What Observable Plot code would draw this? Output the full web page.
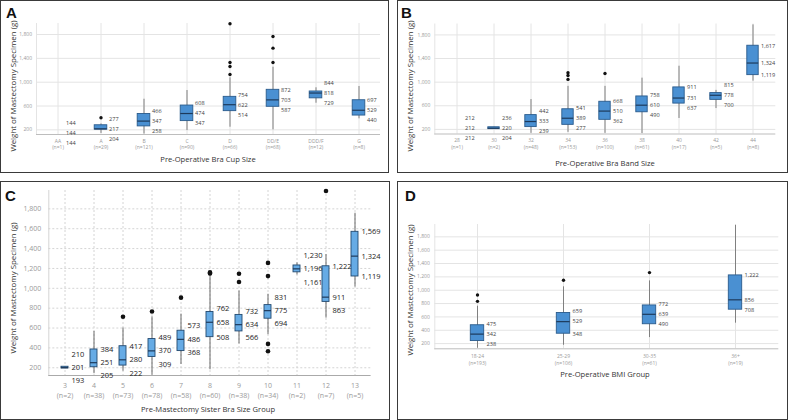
<!DOCTYPE html>
<html><head><meta charset="utf-8">
<script src="https://cdn.jsdelivr.net/npm/d3@7"></script>
<script src="https://cdn.jsdelivr.net/npm/@observablehq/plot@0.6"></script>
<style>
body{margin:0;background:#fff;}
#fig{position:relative;width:788px;height:420px;overflow:hidden;font-family:"Open Sans","Noto Sans",sans-serif;background:#fff;}
.panel{position:absolute;border:1.5px solid #3a3a3a;box-sizing:border-box;}
.letter{position:absolute;font:bold 15px/15px "Liberation Sans",Arial,sans-serif;color:#111;}
.ytitle{position:absolute;transform:translate(-50%,-50%) rotate(-90deg);white-space:nowrap;font-size:7.9px;color:#333;}
.xtitle{position:absolute;transform:translate(-50%,-50%);white-space:nowrap;font-size:7.6px;color:#333;}
.plot{position:absolute;}
</style>
</head><body>
<div id="fig"></div>
<script>
const yDomain = [122, 1985];

// Panel A — pre-operative bra cup size
const cupCats = ["AA","A","B","C","D","DD/E","DDD/F","G"];
const cupN    = [1,29,121,90,66,68,12,8];
const cupLow  = [144,140,130,188,244,200,647,385];
const cupQ1   = [144,204,258,347,514,587,729,440];
const cupMed  = [144,217,347,474,622,703,818,529];
const cupQ3   = [144,277,466,608,754,872,844,697];
const cupHigh = [144,300,714,860,1074,1252,906,928];
const cupOutCat = ["A","D","D","D","D","DD/E","DD/E","DD/E"];
const cupOutVal = [402,1981,1331,1264,1129,1768,1571,1331];

// Panel B — pre-operative bra band size
const bandCats = ["28","30","32","34","36","38","40","42","44"];
const bandN    = [1,2,48,153,100,61,17,5,8];
const bandLow  = [212,204,133,150,133,130,385,553,1017];
const bandQ1   = [212,204,239,277,362,490,637,700,1119];
const bandMed  = [212,220,333,389,510,610,731,778,1324];
const bandQ3   = [212,236,442,541,668,758,911,815,1617];
const bandHigh = [212,236,705,929,929,1068,1270,861,1970];
const bandOutCat = ["34","34","34","36"];
const bandOutVal = [1159,1114,1047,1147];

// Panel C — pre-mastectomy sister bra size group
const sisCats = ["3","4","5","6","7","8","9","10","11","12","13"];
const sisN    = [2,38,73,78,58,60,38,34,2,7,5];
const sisLow  = [193,140,166,125,233,180,440,533,1135,700,1013];
const sisQ1   = [193,205,222,309,368,508,566,694,1161,863,1119];
const sisMed  = [201,251,280,370,486,658,634,775,1196,911,1324];
const sisQ3   = [210,384,417,489,573,762,732,831,1230,1222,1569];
const sisHigh = [210,566,600,713,740,1140,973,940,1256,1340,1756];
const sisOutCat = ["5","6","7","8","8","9","9","10","10","10","10","12"];
const sisOutVal = [713,766,906,1150,1160,1146,1063,1256,1123,440,366,1980];

// Panel D — pre-operative BMI group
const bmiCats = ["18-24","25-29","30-35","36+"];
const bmiN    = [193,106,61,19];
const bmiLow  = [130,175,290,506];
const bmiQ1   = [238,348,490,708];
const bmiMed  = [342,529,639,856];
const bmiQ3   = [475,659,772,1222];
const bmiHigh = [760,1051,1140,1972];
const bmiOutCat = ["18-24","18-24","25-29","30-35"];
const bmiOutVal = [928,833,1150,1264];

const ticksSparse = [200,600,1000,1400,1800];
const ticksDense = [200,400,600,800,1000,1200,1400,1600,1800];

const fmt = d3.format(",");
const fig = document.getElementById("fig");

function add(tag, cls, css, text) {
  const el = document.createElement(tag);
  el.className = cls;
  Object.assign(el.style, css);
  if (text) el.textContent = text;
  fig.appendChild(el);
  return el;
}

function panel(c) {
  const rows = c.cats.map((cat,i)=>({cat, n:c.n[i], low:c.low[i], q1:c.q1[i], med:c.med[i], q3:c.q3[i], high:c.high[i]}));
  const plotH = c.height - c.mt - c.mb;
  const k = plotH / (yDomain[1]-yDomain[0]);
  const gap = c.gapPx / k;
  const labels = rows.flatMap(r => [
    {cat:r.cat, y:Math.max(r.q3, r.med+gap), t:r.q3},
    {cat:r.cat, y:r.med, t:r.med},
    {cat:r.cat, y:Math.min(r.q1, r.med-gap), t:r.q1}
  ]);
  const boxes = rows.filter(r=>r.n>1);
  const outs = c.outCat.map((cat,i)=>({cat, v:c.outVal[i]}));
  const nOf = new Map(rows.map(r=>[r.cat,r.n]));
  const svg = Plot.plot({
    width:c.width, height:c.height,
    marginLeft:c.ml, marginRight:c.mr, marginTop:c.mt, marginBottom:c.mb,
    x:{type:"band", domain:c.cats, padding:0},
    y:{domain:yDomain},
    style:{fontFamily:'"Open Sans","Noto Sans",sans-serif', background:"transparent", overflow:"visible"},
    marks:[
      Plot.gridY(c.ticks, {stroke:c.grid, strokeOpacity:1, strokeDasharray:c.dash}),
      Plot.gridX({stroke:c.grid, strokeOpacity:1, strokeDasharray:c.dash}),
      Plot.frame({anchor:"left", stroke:c.grid}),
      Plot.ruleY([yDomain[0]], {stroke:c.axisLine}),
      Plot.axisY(c.ticks, {tickSize:0, tickPadding:c.yPad, fontSize:c.tickFont, fill:"#9a9a9a", tickFormat:d=>fmt(d), label:null}),
      Plot.axisX({tickSize:0, tickPadding:c.xPad, fontSize:c.tickFont, lineHeight:c.lh, fill:"#9a9a9a", tickFormat:d=>`${d}\n(n=${nOf.get(d)})`, label:null}),
      Plot.ruleX(boxes, {x:"cat", y1:"low", y2:"high", stroke:c.whisk, strokeWidth:1}),
      Plot.barY(boxes, {x:"cat", y1:"q1", y2:"q3", fill:c.fill, stroke:c.boxStroke, strokeWidth:0.9, insetLeft:c.inset, insetRight:c.inset}),
      Plot.tickY(boxes, {x:"cat", y:"med", stroke:c.medStroke, strokeWidth:1.2, insetLeft:c.inset, insetRight:c.inset}),
      Plot.dot(outs, {x:"cat", y:"v", r:c.r, fill:"#111", stroke:null}),
      Plot.text(labels, {x:"cat", y:"y", text:d=>fmt(d.t), dx:c.dx, textAnchor:"start", fontSize:c.labFont, fill:c.labColor})
    ]
  });
  const wrap = add("div","plot",{left:c.left+"px", top:c.top+"px"});
  wrap.appendChild(svg);
}

// borders
add("div","panel",{left:"0px",top:"0px",width:"389px",height:"173px"});
add("div","panel",{left:"397px",top:"0px",width:"391px",height:"173px"});
add("div","panel",{left:"0px",top:"181px",width:"390px",height:"239px"});
add("div","panel",{left:"397px",top:"181px",width:"391px",height:"239px"});

const abd = {fill:"#4a90d2", boxStroke:"#2a5b8c", medStroke:"#1d3a5c", whisk:"#808080", grid:"#e4e4e4", axisLine:"#bdbdbd", dash:null,
  tickFont:5, labFont:5.6, labColor:"#444", r:1.7, yPad:4.5};

panel({...abd, left:0, top:0, width:389, height:172, ml:36, mr:9, mt:23, mb:38,
  cats:cupCats, n:cupN, low:cupLow, q1:cupQ1, med:cupMed, q3:cupQ3, high:cupHigh, outCat:cupOutCat, outVal:cupOutVal,
  ticks:ticksSparse, gapPx:10, inset:15.2, dx:8, xPad:3.5, lh:1.34});

panel({...abd, left:397, top:0, width:390, height:172, ml:37.3, mr:11.7, mt:23.5, mb:38.5,
  cats:bandCats, n:bandN, low:bandLow, q1:bandQ1, med:bandMed, q3:bandQ3, high:bandHigh, outCat:bandOutCat, outVal:bandOutVal,
  ticks:ticksSparse, gapPx:10, inset:12.8, dx:8, xPad:3.5, lh:1.3});

panel({fill:"#66abe5", boxStroke:"#23496f", medStroke:"#1d3a5c", whisk:"#6a6a6a", grid:"#d4d4d4", axisLine:"#aaaaaa", dash:"2,2",
  tickFont:7, labFont:7.5, labColor:"#222", r:2.3, yPad:7.5,
  left:0, top:181, width:389, height:238, ml:48.3, mr:18.4, mt:9, mb:44,
  cats:sisCats, n:sisN, low:sisLow, q1:sisQ1, med:sisMed, q3:sisQ3, high:sisHigh, outCat:sisOutCat, outVal:sisOutVal,
  ticks:ticksDense, gapPx:13.3, inset:11, dx:6.5, xPad:5.5, lh:1.43});

panel({...abd, left:397, top:181, width:390, height:238, ml:37.3, mr:8.7, mt:43, mb:70.7,
  cats:bmiCats, n:bmiN, low:bmiLow, q1:bmiQ1, med:bmiMed, q3:bmiQ3, high:bmiHigh, outCat:bmiOutCat, outVal:bmiOutVal,
  ticks:ticksDense, gapPx:10, inset:36.3, dx:9, xPad:5, lh:1.3, yPad:5});

// letters and titles
add("div","letter",{left:"6px",top:"5px"},"A");
add("div","letter",{left:"401px",top:"5px"},"B");
add("div","letter",{left:"5px",top:"188px"},"C");
add("div","letter",{left:"405px",top:"188px"},"D");

const yt = "Weight of Mastectomy Specimen (g)";
add("div","ytitle",{left:"13px",top:"86px"},yt);
add("div","ytitle",{left:"410px",top:"86px"},yt);
add("div","ytitle",{left:"13px",top:"288px"},yt);
add("div","ytitle",{left:"410px",top:"290px"},yt);

add("div","xtitle",{left:"208px",top:"159px"},"Pre-Operative Bra Cup Size");
add("div","xtitle",{left:"605px",top:"163px"},"Pre-Operative Bra Band Size");
add("div","xtitle",{left:"208px",top:"409px"},"Pre-Mastectomy Sister Bra Size Group");
add("div","xtitle",{left:"605px",top:"374px"},"Pre-Operative BMI Group");
</script>
</body></html>
